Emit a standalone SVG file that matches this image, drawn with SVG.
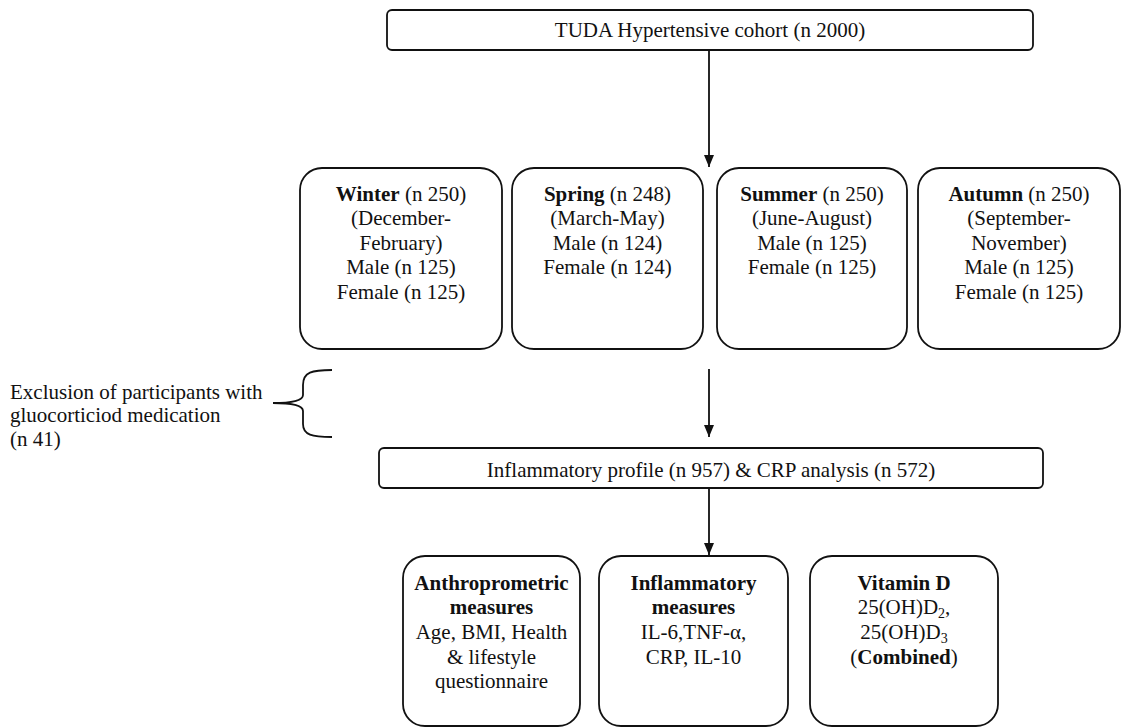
<svg xmlns="http://www.w3.org/2000/svg" width="1122" height="728" viewBox="0 0 1122 728">
<style>
.box{fill:#fff;stroke:#111;stroke-width:1.8}
.t{font-family:"Liberation Serif","Times New Roman",serif;font-size:21px;fill:#111;text-anchor:middle}
.l{text-anchor:start}
.b{font-weight:bold}
.c{stroke:#111;stroke-width:1.8;fill:none}
</style>
<defs>
<marker id="ah" viewBox="0 0 12 10" refX="12" refY="5" markerWidth="12" markerHeight="10" markerUnits="userSpaceOnUse" orient="auto">
<path d="M0,0 L12,5 L0,10 Z" fill="#111"/>
</marker>
</defs>
<rect width="1122" height="728" fill="#fff"/>
<g id="connectors">
<line class="c" x1="709" y1="50" x2="709" y2="167" marker-end="url(#ah)"/>
<line class="c" x1="709" y1="369" x2="709" y2="437" marker-end="url(#ah)"/>
<line class="c" x1="709" y1="488" x2="709" y2="555" marker-end="url(#ah)"/>
</g>
<g id="top">
<rect class="box" x="387" y="10" width="646" height="40" rx="5"/>
<text class="t" x="710" y="37">TUDA Hypertensive cohort (n 2000)</text>
</g>
<g id="winter">
<rect class="box" x="300" y="168" width="202" height="181" rx="22"/>
<text class="t" x="401" y="201"><tspan class="b">Winter</tspan> (n 250)</text>
<text class="t" x="401" y="225">(December-</text>
<text class="t" x="401" y="250">February)</text>
<text class="t" x="401" y="274">Male (n 125)</text>
<text class="t" x="401" y="299">Female (n 125)</text>
</g>
<g id="spring">
<rect class="box" x="512" y="168" width="191" height="181" rx="22"/>
<text class="t" x="607.5" y="201"><tspan class="b">Spring</tspan> (n 248)</text>
<text class="t" x="607.5" y="225">(March-May)</text>
<text class="t" x="607.5" y="250">Male (n 124)</text>
<text class="t" x="607.5" y="274">Female (n 124)</text>
</g>
<g id="summer">
<rect class="box" x="717" y="168" width="190" height="181" rx="22"/>
<text class="t" x="812" y="201"><tspan class="b">Summer</tspan> (n 250)</text>
<text class="t" x="812" y="225">(June-August)</text>
<text class="t" x="812" y="250">Male (n 125)</text>
<text class="t" x="812" y="274">Female (n 125)</text>
</g>
<g id="autumn">
<rect class="box" x="918" y="168" width="202" height="181" rx="22"/>
<text class="t" x="1019" y="201"><tspan class="b">Autumn</tspan> (n 250)</text>
<text class="t" x="1019" y="225">(September-</text>
<text class="t" x="1019" y="250">November)</text>
<text class="t" x="1019" y="274">Male (n 125)</text>
<text class="t" x="1019" y="299">Female (n 125)</text>
</g>
<g id="exclusion">
<path class="c" d="M332,370 C312,370 303,372 303,385 L303,395 C303,401 290,403 273,403 C290,403 303,405 303,411 L303,424 C303,435 312,437 332,437"/>
<text class="t l" x="10" y="399">Exclusion of participants with</text>
<text class="t l" x="10" y="422">gluocorticiod medication</text>
<text class="t l" x="10" y="446">(n 41)</text>
</g>
<g id="inflammatory-profile">
<rect class="box" x="379" y="448" width="664" height="40" rx="5"/>
<text class="t" x="711" y="477">Inflammatory profile (n 957) &amp; CRP analysis (n 572)</text>
</g>
<g id="anthropometric">
<rect class="box" x="403" y="556" width="177" height="170" rx="22"/>
<text class="t b" x="491.5" y="590">Anthroprometric</text>
<text class="t b" x="491.5" y="614">measures</text>
<text class="t" x="491.5" y="639">Age, BMI, Health</text>
<text class="t" x="491.5" y="664">&amp; lifestyle</text>
<text class="t" x="491.5" y="688">questionnaire</text>
</g>
<g id="inflammatory-measures">
<rect class="box" x="599" y="556" width="189" height="170" rx="22"/>
<text class="t b" x="693.5" y="590">Inflammatory</text>
<text class="t b" x="693.5" y="614">measures</text>
<text class="t" x="693.5" y="639">IL-6,TNF-α,</text>
<text class="t" x="693.5" y="664">CRP, IL-10</text>
</g>
<g id="vitamin-d">
<rect class="box" x="810" y="556" width="188" height="170" rx="22"/>
<text class="t b" x="904" y="590">Vitamin D</text>
<text class="t" x="904" y="614">25(OH)D<tspan font-size="14" dy="4">2</tspan><tspan dy="-4">,</tspan></text>
<text class="t" x="904" y="639">25(OH)D<tspan font-size="14" dy="4">3</tspan></text>
<text class="t" x="904" y="664">(<tspan class="b">Combined</tspan>)</text>
</g>
</svg>
